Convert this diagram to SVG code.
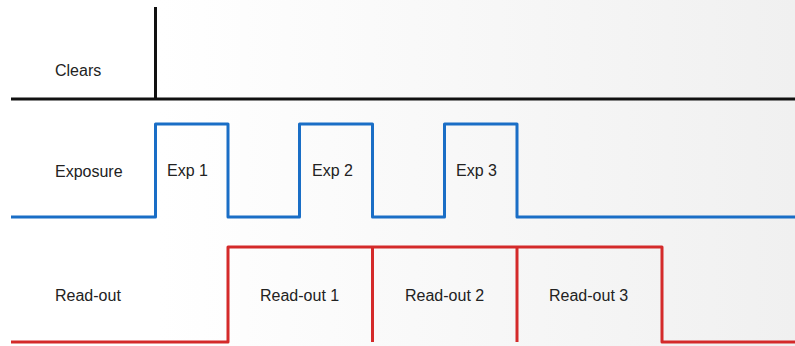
<svg xmlns="http://www.w3.org/2000/svg" width="795" height="346" viewBox="0 0 795 346">
<defs>
<linearGradient id="bg" x1="0" y1="0" x2="795" y2="0" gradientUnits="userSpaceOnUse">
<stop offset="0.2" stop-color="#ffffff"/>
<stop offset="1" stop-color="#f0f0f0"/>
</linearGradient>
<style>
.lbl{font-family:"Liberation Sans",Arial,sans-serif;font-size:16px;fill:#222}
.blk{fill:none;stroke:#111;stroke-width:3}
.blu{fill:none;stroke:#1a6ec6;stroke-width:3;stroke-linejoin:round}
.red{fill:none;stroke:#d42a2a;stroke-width:3;stroke-linejoin:round}
</style>
</defs>
<rect x="0" y="0" width="795" height="346" fill="url(#bg)"/>
<g id="connectors">
<g id="clears-signal">
<line class="blk" x1="155.5" y1="7" x2="155.5" y2="99"/>
<line class="blk" x1="11" y1="99" x2="795" y2="99"/>
</g>
<path id="exposure-signal" class="blu" d="M11 217 H155.5 V124 H228 V217 H299.5 V124 H372.5 V217 H444.5 V124 H517 V217 H795"/>
<g id="readout-signal">
<path class="red" d="M11 342 H228 V247 H662 V342 H795"/>
<line class="red" x1="372.5" y1="247" x2="372.5" y2="342"/>
<line class="red" x1="517" y1="247" x2="517" y2="342"/>
</g>
</g>
<g id="row-clears"><text class="lbl" x="55" y="76">Clears</text></g>
<g id="row-exposure"><text class="lbl" x="55" y="177">Exposure</text></g>
<g id="row-readout"><text class="lbl" x="55" y="301">Read-out</text></g>
<g id="exp1"><text class="lbl" x="167" y="176">Exp 1</text></g>
<g id="exp2"><text class="lbl" x="312" y="176">Exp 2</text></g>
<g id="exp3"><text class="lbl" x="456" y="176">Exp 3</text></g>
<g id="ro1"><text class="lbl" x="260" y="301">Read-out 1</text></g>
<g id="ro2"><text class="lbl" x="405" y="301">Read-out 2</text></g>
<g id="ro3"><text class="lbl" x="549" y="301">Read-out 3</text></g>
</svg>
